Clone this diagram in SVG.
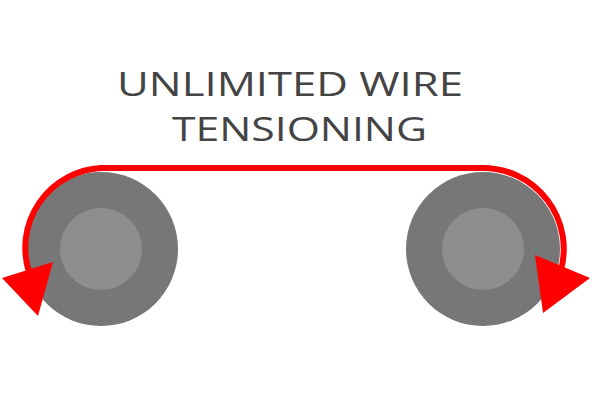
<svg xmlns="http://www.w3.org/2000/svg" width="600" height="400" viewBox="0 0 600 400">
<style>
.outer{fill:#777777}
.inner{fill:#8e8e8e}
.wire{fill:none;stroke:#ff0000;stroke-width:6}
.head{fill:#ff0000}
.title{font-family:"Open Sans","Liberation Sans",sans-serif;font-weight:400;font-size:33px;fill:#444444}
</style>
<rect width="600" height="400" fill="#ffffff"/>
<g id="title">
<text class="title" x="117" y="96" textLength="346" lengthAdjust="spacingAndGlyphs">UNLIMITED WIRE</text>
<text class="title" x="172" y="141" textLength="255" lengthAdjust="spacingAndGlyphs">TENSIONING</text>
</g>
<g id="left-wheel">
<circle class="outer" cx="101" cy="249" r="77"/>
<circle class="inner" cx="101" cy="249" r="41"/>
</g>
<g id="right-wheel">
<circle class="outer" cx="483" cy="249" r="77"/>
<circle class="inner" cx="483" cy="249" r="41"/>
</g>
<g id="connectors">
<path class="wire" d="M 29 272 A 80 80 0 0 1 101 168 L 483 168 A 81 81 0 0 1 561 270"/>
<polygon class="head" points="2,278 53,262 38,316"/>
<polygon class="head" points="535,255 590,278 543,313"/>
</g>
</svg>
